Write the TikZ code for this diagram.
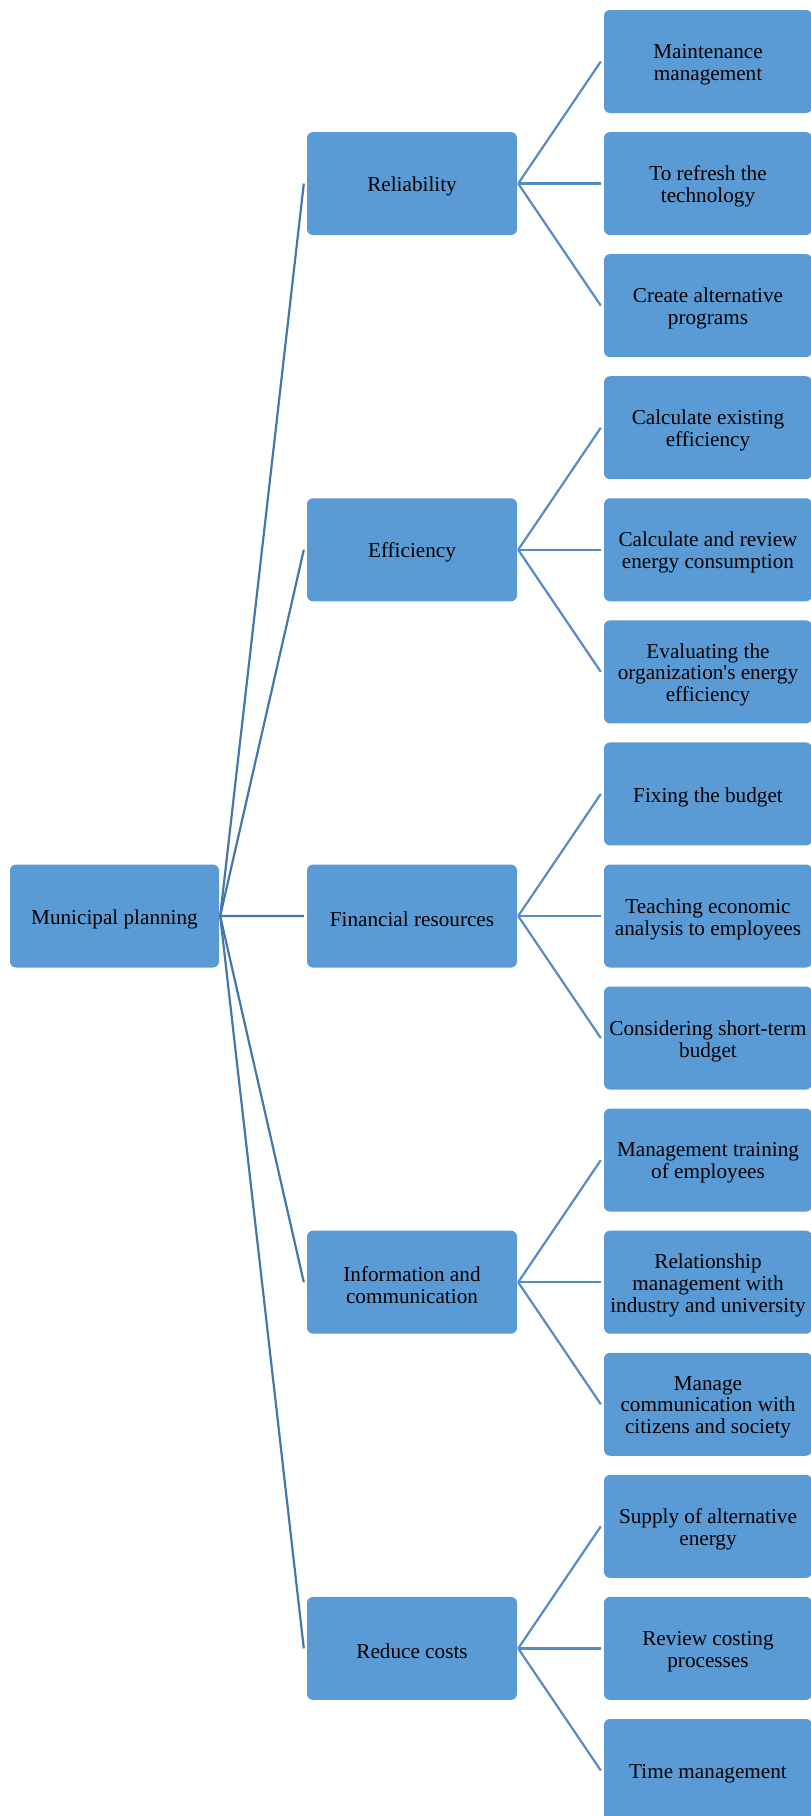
\documentclass[tikz,border=0pt]{standalone}
\usepackage{fontspec}
\setmainfont{Liberation Serif}
\definecolor{boxfill}{HTML}{5B9BD5}
\definecolor{rootline}{HTML}{4677AB}
\definecolor{leafline}{HTML}{568CC6}
\begin{document}
\begin{tikzpicture}[x=1pt,y=-1pt,
  box/.style={fill=boxfill, rounded corners=6pt, minimum height=103pt, inner sep=0pt},
  rootbox/.style={box, minimum width=209pt},
  midbox/.style={box, minimum width=210pt},
  leafbox/.style={box, minimum width=208pt},
  lab/.style={align=center, inner sep=0pt, font=\fontsize{21.2}{21.9}\selectfont, text=black},
  rconn/.style={draw=rootline, line width=2.2pt},
  lconn/.style={draw=leafline, line width=2.2pt}]
\useasboundingbox (0,0) rectangle (811,1816);
\fill[white] (0,0) rectangle (811,1816);
\def\ly#1{61.5+122.07*#1}
\newcommand\bx[4]{\node[#1] (#2) at #3 {};
  \node[lab] (#2t) at ([yshift=-3pt]#2.center) {#4};}
% root
\bx{rootbox}{root}{(114.5,916)}{Municipal planning}
% mid level
\bx{midbox}{m1}{(412,{\ly{1}})}{Reliability}
\bx{midbox}{m2}{(412,{\ly{4}})}{Efficiency}
\bx{midbox}{m3}{(412,{\ly{7}})}{Financial resources}
\bx{midbox}{m4}{(412,{\ly{10}})}{Information and\\communication}
\bx{midbox}{m5}{(412,{\ly{13}})}{Reduce costs}
% leaves
\bx{leafbox}{l0}{(708,{\ly{0}})}{Maintenance\\management}
\bx{leafbox}{l1}{(708,{\ly{1}})}{To refresh the\\technology}
\bx{leafbox}{l2}{(708,{\ly{2}})}{Create alternative\\programs}
\bx{leafbox}{l3}{(708,{\ly{3}})}{Calculate existing\\efficiency}
\bx{leafbox}{l4}{(708,{\ly{4}})}{Calculate and review\\energy consumption}
\bx{leafbox}{l5}{(708,{\ly{5}})}{Evaluating the\\organization\textquotesingle s energy\\efficiency}
\bx{leafbox}{l6}{(708,{\ly{6}})}{Fixing the budget}
\bx{leafbox}{l7}{(708,{\ly{7}})}{Teaching economic\\analysis to employees}
\bx{leafbox}{l8}{(708,{\ly{8}})}{Considering short-term\\budget}
\bx{leafbox}{l9}{(708,{\ly{9}})}{Management training\\of employees}
\bx{leafbox}{l10}{(708,{\ly{10}})}{Relationship\\management with\\industry and university}
\bx{leafbox}{l11}{(708,{\ly{11}})}{Manage\\communication with\\citizens and society}
\bx{leafbox}{l12}{(708,{\ly{12}})}{Supply of alternative\\energy}
\bx{leafbox}{l13}{(708,{\ly{13}})}{Review costing\\processes}
\bx{leafbox}{l14}{(708,{\ly{14}})}{Time management}
% root connectors
\foreach \m in {m1,m2,m3,m4,m5}{
  \draw[rconn] ([xshift=1pt]root.east) -- ([xshift=-3pt]\m.west);
}
% mid connectors
\foreach \m/\a/\b/\c in {m1/l0/l1/l2, m2/l3/l4/l5, m3/l6/l7/l8, m4/l9/l10/l11, m5/l12/l13/l14}{
  \draw[lconn] ([xshift=1pt]\m.east) -- ([xshift=-3pt]\a.west);
  \draw[lconn] ([xshift=1pt]\m.east) -- ([xshift=-3pt]\b.west);
  \draw[lconn] ([xshift=1pt]\m.east) -- ([xshift=-3pt]\c.west);
}
\end{tikzpicture}
\end{document}
